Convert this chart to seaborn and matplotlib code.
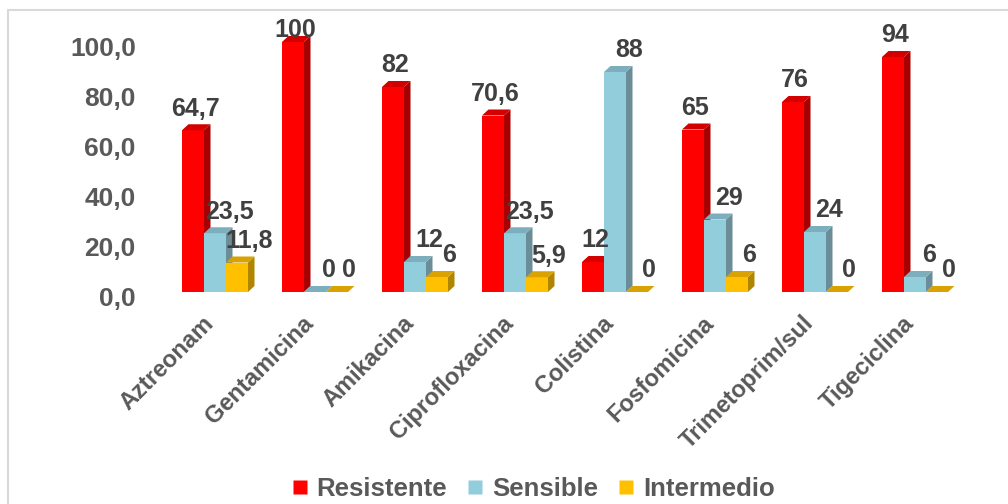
import seaborn as sns
import matplotlib.pyplot as plt
import pandas as pd
from matplotlib.patches import Polygon, Rectangle
from matplotlib.lines import Line2D
import matplotlib.transforms as mtransforms

antibioticos = ['Aztreonam', 'Gentamicina', 'Amikacina', 'Ciprofloxacina',
                'Colistina', 'Fosfomicina', 'Trimetoprim/sul', 'Tigeciclina']
resistente = [64.7, 100, 82, 70.6, 12, 65, 76, 94]
sensible = [23.5, 0, 12, 23.5, 88, 29, 24, 6]
intermedio = [11.8, 0, 6, 5.9, 0, 6, 0, 0]
series = ['Resistente', 'Sensible', 'Intermedio']
yticks = [0, 20, 40, 60, 80, 100]

# colores: frente, lado, tapa
front = ['#FF0000', '#92CDDC', '#FFC000']
side = ['#A80000', '#6A8D98', '#B08500']
top = ['#D40000', '#7DAEBD', '#D9A200']

df = pd.DataFrame({
    'antibiotico': antibioticos * 3,
    'serie': [s for s in series for _ in antibioticos],
    'valor': resistente + sensible + intermedio,
})

sns.set_style('white')
plt.rcParams['font.family'] = ['Liberation Sans', 'DejaVu Sans']

W, H = 1008, 504
fig = plt.figure(figsize=(W / 100, H / 100), dpi=100)
ax = fig.add_axes([165 / W, 1 - 292 / H, 800 / W, 275 / H])

sns.barplot(data=df, x='antibiotico', y='valor', hue='serie', hue_order=series,
            palette=front, saturation=1, width=0.66, legend=False, ax=ax)

ax.set_xlim(-0.5, 7.5)
ax.set_ylim(0, 110)
sns.despine(ax=ax, left=True, bottom=True)

dx, dy = 0.065, 2.4
label_dx = [2, 14, 12]  # desplazamiento horizontal de etiquetas (px)
label_max = 96  # como Excel, la etiqueta no sube por encima del area
for k, cont in enumerate(ax.containers):
    for p in cont.patches:
        x0 = p.get_x()
        x1 = x0 + p.get_width()
        h = p.get_height()
        z = 2 + 0.1 * k
        p.set_zorder(z)
        p.set_edgecolor('none')
        ax.add_patch(Polygon([(x1, 0), (x1 + dx, dy), (x1 + dx, h + dy), (x1, h)],
                             closed=True, facecolor=side[k], edgecolor='none', zorder=z))
        ax.add_patch(Polygon([(x0, h), (x0 + dx, h + dy), (x1 + dx, h + dy), (x1, h)],
                             closed=True, facecolor=top[k], edgecolor='none', zorder=z))
        txt = f'{h:g}'.replace('.', ',')
        ax.annotate(txt, xy=(x0 + p.get_width() / 2, min(h, label_max)),
                    xytext=(label_dx[k] * 0.72, 7),
                    textcoords='offset points', ha='center', va='bottom',
                    fontsize=18, fontweight='bold', color='#404040', zorder=5,
                    annotation_clip=False)

ax.set_yticks(yticks)
ax.set_yticklabels([f'{v:.1f}'.replace('.', ',') for v in yticks],
                   fontsize=19, fontweight='bold', color='#595959')
ax.tick_params(axis='y', length=0, pad=21)
off = mtransforms.ScaledTranslation(0, -4 / 100, fig.dpi_scale_trans)
for lab in ax.get_yticklabels():
    lab.set_transform(lab.get_transform() + off)

ax.set_xticks(range(len(antibioticos)))
ax.set_xticklabels(antibioticos, rotation=45, ha='right', rotation_mode='anchor',
                   fontsize=17, fontweight='bold', color='#595959')
ax.tick_params(axis='x', length=0, pad=14)
offx = mtransforms.ScaledTranslation(-13 / 100, 0, fig.dpi_scale_trans)
for lab in ax.get_xticklabels():
    lab.set_transform(lab.get_transform() + offx)
ax.set_xlabel('')
ax.set_ylabel('')

handles = [Line2D([0], [0], marker='s', linestyle='none', markersize=10,
                  markerfacecolor=c, markeredgecolor='none') for c in front]
fig.legend(handles, series, loc='center', bbox_to_anchor=(532 / W, 1 - 489 / H),
           ncol=3, frameon=False, handletextpad=0.25, columnspacing=0.7,
           handlelength=0.8, prop={'size': 18.5, 'weight': 'bold'}, labelcolor='#595959')

fig.add_artist(Rectangle((8 / W, -0.1), 1.2, 1.1 - 10 / H, transform=fig.transFigure,
                         facecolor='none', edgecolor='#D9D9D9', linewidth=1.5))

fig.savefig('out.png', dpi=100)
